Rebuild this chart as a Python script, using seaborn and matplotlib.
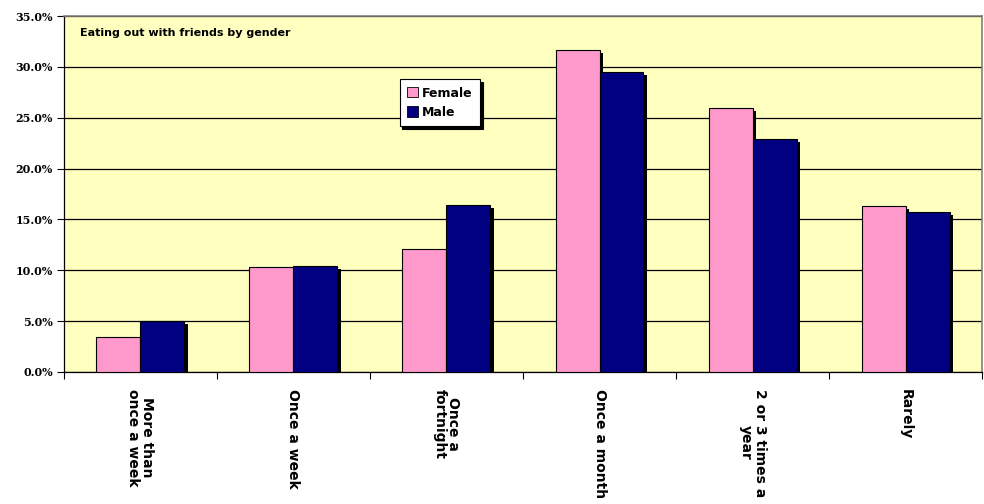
import matplotlib
matplotlib.use("Agg")
import matplotlib.pyplot as plt
import matplotlib.patheffects as pe
import seaborn as sns
import pandas as pd
import numpy as np

categories = ["More than\nonce a week", "Once a week", "Once a\nfortnight",
              "Once a month", "2 or 3 times a\nyear", "Rarely"]
female = [3.4, 10.3, 12.1, 31.7, 26.0, 16.3]
male = [5.0, 10.4, 16.4, 29.5, 22.9, 15.7]
genders = ["Female", "Male"]
yticks = [0, 5, 10, 15, 20, 25, 30, 35]

df = pd.DataFrame({
    "category": categories * 2,
    "gender": ["Female"] * len(categories) + ["Male"] * len(categories),
    "value": female + male,
})

sns.set_theme(style="white")
plt.rcParams["font.family"] = ["DejaVu Sans"]
plt.rcParams["text.color"] = "black"
plt.rcParams["xtick.color"] = "black"
plt.rcParams["ytick.color"] = "black"
plt.rcParams["axes.labelcolor"] = "black"

fig = plt.figure(figsize=(9.84, 5.04), dpi=100)
ax = fig.add_axes([0.065, 0.262, 0.933, 0.706])
ax.set_facecolor("#FFFFC0")

sns.barplot(data=df, x="category", y="value", hue="gender", order=categories,
            hue_order=genders, palette={"Female": "#FF99CC", "Male": "#000080"},
            width=0.575, edgecolor="black", linewidth=0.8, saturation=1,
            ax=ax, zorder=3)

shadow = [pe.SimplePatchShadow(offset=(2.2, -2.2), shadow_rgbFace="black", alpha=1.0),
          pe.Normal()]
for p in ax.patches:
    p.set_path_effects(shadow)

ax.set_ylim(0, 35)
ax.set_xlim(-0.5, len(categories) - 0.5)
ax.set_yticks(yticks)
ax.set_yticklabels([f"{v:.1f}%" for v in yticks], fontsize=8, fontweight="bold",
                   family="DejaVu Serif")
ax.yaxis.grid(True, color="black", linewidth=0.9, zorder=0)
ax.set_axisbelow(True)

ax.set_xticks(range(len(categories)))
ax.set_xticklabels(categories, rotation=-90, fontsize=10, fontweight="bold",
                   va="top", ha="center", linespacing=1.0)
ax.set_xticks(np.arange(-0.5, len(categories), 1.0), minor=True)
ax.tick_params(axis="x", which="major", length=0, pad=12)
ax.tick_params(axis="x", which="minor", length=5, width=0.8, color="black",
               direction="out", bottom=True)
ax.tick_params(axis="y", length=5, width=0.8, color="black", direction="out",
               left=True, pad=3)

for side in ["left", "bottom"]:
    ax.spines[side].set_color("black")
    ax.spines[side].set_linewidth(0.9)
ax.spines["top"].set_color("#808080")
ax.spines["right"].set_color("#808080")
ax.spines["top"].set_linewidth(1.2)
ax.spines["right"].set_linewidth(1.2)

ax.set_xlabel("")
ax.set_ylabel("")

ax.text(0.017, 0.967, "Eating out with friends by gender", transform=ax.transAxes,
        fontsize=8, fontweight="bold", va="top", ha="left", color="black")

leg = ax.legend(loc="upper left", bbox_to_anchor=(0.3655, 0.823), frameon=True,
                fancybox=False, shadow={"color": "black", "alpha": 1, "ox": 2, "oy": -2},
                edgecolor="black", framealpha=1, facecolor="white",
                prop={"size": 9, "weight": "bold"}, handlelength=0.9, handleheight=0.9,
                handletextpad=0.3, borderpad=0.6, labelspacing=0.5, borderaxespad=0)
leg.get_frame().set_linewidth(0.8)
for t in leg.get_texts():
    t.set_color("black")
for h in leg.legend_handles:
    h.set_edgecolor("black")
    h.set_linewidth(0.6)
    h.set_path_effects([])

fig.savefig("out.png", dpi=100)
